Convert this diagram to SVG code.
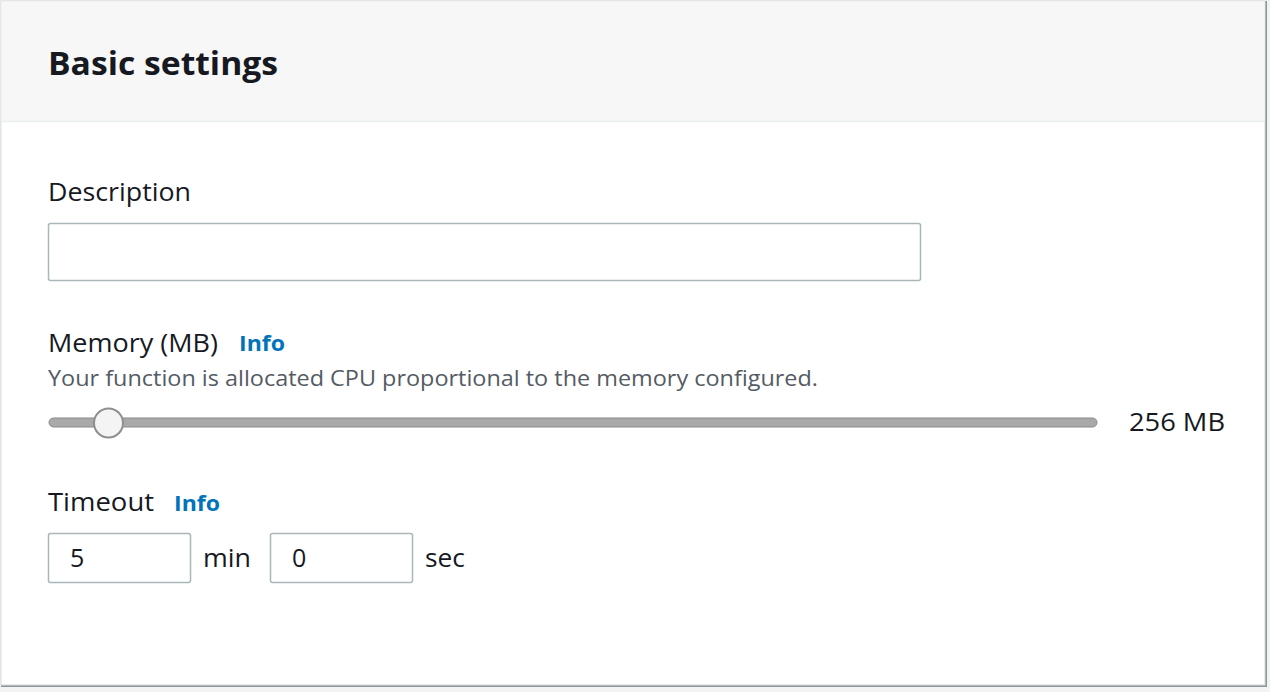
<svg xmlns="http://www.w3.org/2000/svg" width="1270" height="692" viewBox="0 0 1270 692">
<style>
text{font-family:"Open Sans","Noto Sans","Liberation Sans",sans-serif;fill:#16191f}
.lbl{font-size:25px}
.info{font-size:21px;font-weight:bold;fill:#0073bb}
.hint{font-size:21px;fill:#545b64}
.inp{fill:#fff;stroke:#aab7b8;stroke-width:1.5}
</style>
<rect width="1270" height="692" fill="#f2f3f3"/>
<rect x="1" y="1" width="1266" height="686" fill="#8d9699"/>
<rect x="1" y="1" width="1264" height="684" fill="#fff" stroke="#d5dbdb"/>
<rect x="1.5" y="1.5" width="1263" height="120" fill="#f7f7f7"/>
<line x1="1" y1="121.5" x2="1265" y2="121.5" stroke="#eaeded" stroke-width="1.5"/>
<text x="48" y="75" font-size="32" font-weight="bold" textLength="230" lengthAdjust="spacingAndGlyphs">Basic settings</text>
<g id="description">
<text class="lbl" x="48" y="201" textLength="143" lengthAdjust="spacingAndGlyphs">Description</text>
<rect class="inp" x="48.5" y="223.5" width="872" height="57" rx="2"/>
</g>
<g id="memory">
<text class="lbl" x="48" y="352" textLength="170" lengthAdjust="spacingAndGlyphs">Memory (MB)</text>
<text class="info" x="239" y="351" textLength="46" lengthAdjust="spacingAndGlyphs">Info</text>
<text class="hint" x="48" y="386" textLength="770" lengthAdjust="spacingAndGlyphs">Your function is allocated CPU proportional to the memory configured.</text>
<rect x="49" y="418" width="1048" height="9" rx="4.5" fill="#a9a9a9" stroke="#8a8a8a"/>
<circle cx="108.5" cy="423" r="14.5" fill="#f4f4f4" stroke="#8e8e8e" stroke-width="2"/>
<text class="lbl" x="1129" y="431" textLength="96" lengthAdjust="spacingAndGlyphs">256 MB</text>
</g>
<g id="timeout">
<text class="lbl" x="48" y="511" textLength="106" lengthAdjust="spacingAndGlyphs">Timeout</text>
<text class="info" x="174" y="511" textLength="46" lengthAdjust="spacingAndGlyphs">Info</text>
<rect class="inp" x="48.5" y="533.5" width="142" height="49" rx="2"/>
<text class="lbl" x="70" y="567">5</text>
<text class="lbl" x="203" y="567" textLength="48" lengthAdjust="spacingAndGlyphs">min</text>
<rect class="inp" x="270.5" y="533.5" width="142" height="49" rx="2"/>
<text class="lbl" x="292" y="567">0</text>
<text class="lbl" x="425" y="567" textLength="40" lengthAdjust="spacingAndGlyphs">sec</text>
</g>
</svg>
